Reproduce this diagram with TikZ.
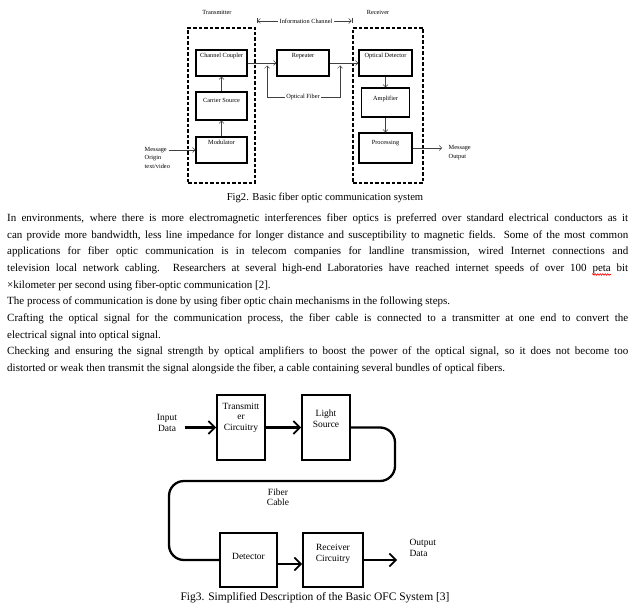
\documentclass[tikz,border=0pt]{standalone}
\usepackage{fontspec}
\setmainfont{Liberation Serif}
\usetikzlibrary{arrows.meta,decorations.pathmorphing}

\tikzset{
	chbox/.style = {draw, rectangle, line width = 1.3pt, inner sep = 0pt},
	chtext/.style = {anchor = north, inner ysep = 4pt, font = \fontsize{6.3}{8.5}\selectfont},
	txt2/.style = {inner sep = 1.5pt, font = \fontsize{6.3}{8.5}\selectfont},
	dashbox/.style = {draw, rectangle, line width = 1.2pt, dash pattern = on 3.5pt off 2pt},
	thinarr/.style = {-{Straight Barb[length = 2.5pt, width = 5pt]}, line width = 0.5pt, black!75},
	thinline/.style = {line width = 0.5pt, black!75},
	ofcbox/.style = {draw, rectangle, line width = 1.8pt, inner sep = 0pt},
	ofctext/.style = {align = center, font = \fontsize{9.5}{10.5}\selectfont},
	fatarr/.style = {-{Straight Barb[length = 6.5pt, width = 13pt, line width = 1.7pt]}, line width = 2.6pt},
	fiber/.style = {line width = 2.3pt, rounded corners = 15pt},
	body/.style = {anchor = base west, inner sep = 0pt, font = \fontsize{11}{13}\selectfont},
	cap2/.style = {font = \fontsize{10.6}{12}\selectfont},
	cap3/.style = {font = \fontsize{11.5}{13}\selectfont}
}

\newcommand{\blockc}[4]{
	\node[chbox, minimum width = #1, minimum height = #2, label = {[chtext, yshift = #4]north:#3}]
}
\newcommand{\blocks}[4]{
	\node[ofcbox, minimum width = #1, minimum height = #2, label = {[ofctext, yshift = #4]center:#3}]
}
\newcommand{\jline}[1]{\makebox[621pt][s]{#1}}

\begin{document}
\begin{tikzpicture}[x = 1pt, y = -1pt, >={Straight Barb[length = 2.5pt, width = 5pt]}]
		\path[use as bounding box, fill = white] (0,0) rectangle (644,612);

		% Fig2
		\node[txt2] (txlab) at (217,12) {Transmitter};
		\node[txt2] (rxlab) at (378,12) {Receiver};
		\node[txt2] (info) at (306,21) {Information Channel};
		\coordinate (icL) at (257,21);
		\coordinate (icR) at (352,21);
		\draw[thinline, |<-] (icL) -- (info.west);
		\draw[thinline, ->|] (info.east) -- (icR);

		\node[dashbox, minimum width = 67, minimum height = 155] (tx) at (221.5,105.5) {};
		\node[dashbox, minimum width = 70, minimum height = 155] (rx) at (388,105.5) {};

		\blockc{51}{26}{Channel Coupler}{0pt} (cc) at (221.5,63) {};
		\blockc{51}{28}{Carrier Source}{-2.5pt} (cs) at (221.5,106) {};
		\blockc{51}{26}{Modulator}{0pt} (mod) at (221.5,150) {};
		\blockc{52}{26}{Repeater}{0pt} (rep) at (303,63) {};
		\blockc{53}{26}{Optical Detector}{0pt} (od) at (385.5,63) {};
		\blockc{48}{29}{Amplifier}{-5pt} (amp) at (385.5,102.5) {};
		\blockc{53}{30}{Processing}{-3.5pt} (proc) at (385.5,148) {};

		\draw[thinarr] (mod) -- (cs);
		\draw[thinarr] (cs) -- (cc);
		\draw[thinarr] (cc) -- (rep);
		\draw[thinarr] (rep) -- (od);
		\draw[thinarr] (od) -- (amp);
		\draw[thinarr] (amp) -- (proc);

		\node[txt2] (ofib) at (303,97) {Optical Fiber};
		\coordinate (fibL) at (267,65.5);
		\coordinate (fibR) at (340,65.5);
		\draw[thinarr] (ofib.west) -| (fibL);
		\draw[thinarr] (ofib.east) -| (fibR);

		\node[txt2, align = left, anchor = west] (msgin) at (143,157.5) {Message\\Origin\\text/video};
		\draw[thinarr] ([xshift = -3pt]msgin.east |- mod.west) -- (mod.west);
		\node[txt2, align = left, anchor = west] (msgout) at (447,152.5) {Message\\Output};
		\draw[thinarr] (proc.east) -- ([xshift = -5pt]msgout.west |- proc.east);

		\node[cap2] (fig2cap) at (325,198) {Fig2. Basic fiber optic communication system};

		% text
		\node[body] (l1) at (7,221.5) {\jline{In environments, where there is more electromagnetic interferences fiber optics is preferred over standard electrical conductors as it}};
		\node[body] (l2) at (7,238.2) {\jline{can provide more bandwidth, less line impedance for longer distance and susceptibility to magnetic fields. Some of the most common}};
		\node[body] (l3) at (7,254.8) {\jline{applications for fiber optic communication is in telecom companies for landline transmission, wired Internet connections and}};
		\node[body] (l4) at (7,271.5) {\jline{television local network cabling. Researchers at several high-end Laboratories have reached internet speeds of over 100 peta bit}};
		\node[body] (l5) at (7,288.2) {×kilometer per second using fiber-optic communication [2].};
		\node[body] (l6) at (7,304.8) {The process of communication is done by using fiber optic chain mechanisms in the following steps.};
		\node[body] (l7) at (7,321.5) {\jline{Crafting the optical signal for the communication process, the fiber cable is connected to a transmitter at one end to convert the}};
		\node[body] (l8) at (7,338.2) {electrical signal into optical signal.};
		\node[body] (l9) at (7,354.8) {\jline{Checking and ensuring the signal strength by optical amplifiers to boost the power of the optical signal, so it does not become too}};
		\node[body] (l10) at (7,371.5) {distorted or weak then transmit the signal alongside the fiber, a cable containing several bundles of optical fibers.};
		\draw[red, line width = 0.6pt, decorate, decoration = {snake, amplitude = 0.8pt, segment length = 2.5pt}] (592,274.5) -- (611,274.5);

		% Fig3
		\node[ofctext] (indata) at (167,423) {Input\\Data};
		\blocks{48}{65}{Transmitt\\er\\Circuitry}{10pt} (txc) at (241,427.5) {};
		\blocks{48}{65}{Light\\Source}{9pt} (ls) at (326,427.5) {};
		\blocks{57}{54}{Detector}{4pt} (det) at (248.5,560) {};
		\blocks{60}{54}{Receiver\\Circuitry}{6pt} (rxc) at (333,560) {};
		\node[ofctext, align = left, anchor = west] (outdata) at (406,548) {Output\\Data};
		\node[ofctext] (fibcab) at (278,497) {Fiber\\Cable};

		\draw[fatarr] ([xshift = 4pt]indata.east |- txc.west) -- (txc.west);
		\draw[fatarr] (txc) -- (ls);
		\draw[fiber] (ls.east) -- (395,427.5) -- (395,481) -- (169,481) -- (169,560) -- (det.west);
		\draw[fatarr] ([yshift = -4pt]det.east) -- ([yshift = -4pt]rxc.west);
		\draw[fatarr] (rxc.east) -- ([xshift = -9pt]outdata.west |- rxc.east);

		\node[cap3] (fig3cap) at (315,598) {Fig3. Simplified Description of the Basic OFC System [3]};
\end{tikzpicture}
\end{document}
